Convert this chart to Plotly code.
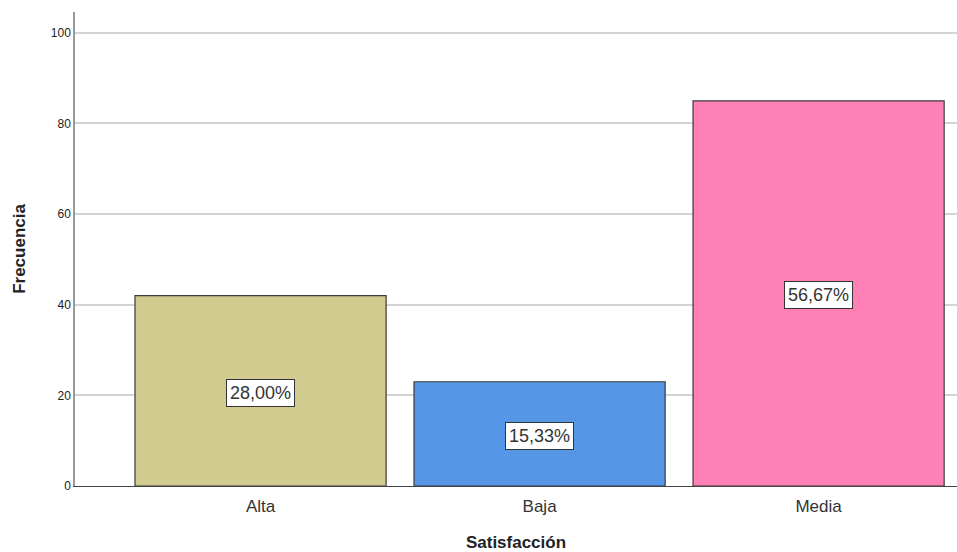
import plotly.graph_objects as go

categories = ["Alta", "Baja", "Media"]
frecuencia = [42, 23, 85]
porcentajes = ["28,00%", "15,33%", "56,67%"]
colores = ["#D1CB8F", "#5597E6", "#FF80B4"]

fig = go.Figure()
fig.add_trace(go.Bar(
    x=categories, y=frecuencia, width=0.9,
    marker=dict(color=colores, line=dict(color="#3a3a3a", width=1.2)),
    hoverinfo="skip",
))

for c, v, p in zip(categories, frecuencia, porcentajes):
    fig.add_annotation(
        x=c, y=v / 2, yshift=-2, text=p, showarrow=False,
        font=dict(family="Arial, Liberation Sans, sans-serif", size=18, color="#333333"),
        bgcolor="white", bordercolor="#333333", borderwidth=1, borderpad=3,
    )

fig.update_layout(
    width=957, height=552,
    margin=dict(l=75, r=0, t=12, b=66),
    paper_bgcolor="white", plot_bgcolor="white",
    showlegend=False,
    font=dict(family="Arial, Liberation Sans, sans-serif", color="#222222"),
    xaxis=dict(
        range=[-0.665, 2.496], showgrid=False,
        showline=True, linecolor="#444444", linewidth=1,
        tickfont=dict(size=17, color="#333333"), ticks="", ticklabelstandoff=5,
        title=dict(text="<b>Satisfacción</b>", font=dict(size=17, color="#222222"), standoff=22),
    ),
    yaxis=dict(
        range=[0, 104.6], tickvals=[0, 20, 40, 60, 80, 100],
        showgrid=True, gridcolor="#d3d3d3", gridwidth=1.5,
        showline=True, linecolor="#999999", linewidth=1.5,
        zeroline=False, ticks="",
        tickfont=dict(size=12, color="#222222"),
        title=dict(text="<b>Frecuencia</b>", font=dict(size=17, color="#222222"), standoff=21),
    ),
)

fig.write_html("out.html")
